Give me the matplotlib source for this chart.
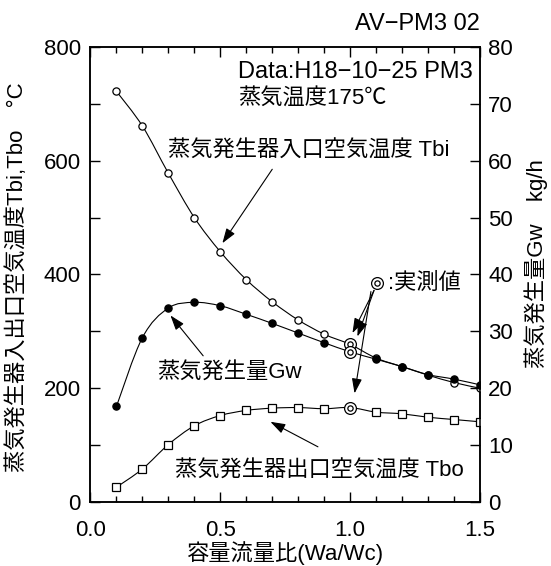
import matplotlib
matplotlib.use("Agg")
import matplotlib.pyplot as plt
import numpy as np
from matplotlib.path import Path
from matplotlib.patches import PathPatch
from matplotlib.ticker import MultipleLocator

plt.rcParams["font.family"] = ["Liberation Sans", "Noto Sans CJK JP"]

# capacity flow ratio Wa/Wc
ratio = [0.1, 0.2, 0.3, 0.4, 0.5, 0.6, 0.7, 0.8, 0.9, 1.0, 1.1, 1.2, 1.3, 1.4, 1.5]
# inlet air temperature Tbi [C]
t_bi = [722, 661, 578, 500, 440, 391, 352, 320, 295, 277, 253, 238, 223, 210, 200]
# outlet air temperature Tbo [C]
t_bo = [26, 58, 101, 134, 152, 161, 165, 166, 164, 166, 158, 155, 149, 145, 141]
# steam generation Gw [kg/h]
g_w = [16.8, 28.9, 34.1, 35.1, 34.5, 33.0, 31.4, 29.7, 28.0, 26.4, 25.1, 23.8, 22.4, 21.6, 20.6]
# measured point
meas_x = 1.0

FS = 16


def smooth_path(xs, ys):
    # Catmull-Rom through the points, written as cubic Bezier segments
    pts = np.column_stack([np.asarray(xs, dtype=float), np.asarray(ys, dtype=float)])
    verts = [pts[0]]
    codes = [Path.MOVETO]
    n = len(pts)
    for i in range(n - 1):
        p0 = pts[max(i - 1, 0)]
        p1 = pts[i]
        p2 = pts[i + 1]
        p3 = pts[min(i + 2, n - 1)]
        verts += [p1 + (p2 - p0) / 6.0, p2 - (p3 - p1) / 6.0, p2]
        codes += [Path.CURVE4] * 3
    return Path(verts, codes)


def double_circle(ax, x, y):
    ax.plot([x], [y], linestyle="none", marker="o", markersize=8.5, markerfacecolor="white",
            markeredgecolor="black", markeredgewidth=0.9, zorder=4)
    ax.plot([x], [y], linestyle="none", marker="o", markersize=3.8, markerfacecolor="white",
            markeredgecolor="black", markeredgewidth=0.9, zorder=5)


def draw_series(ax, xs, ys, marker, face):
    ax.add_patch(PathPatch(smooth_path(xs, ys), fill=False, lw=0.8, edgecolor="black", zorder=2))
    keep = [i for i, x in enumerate(xs) if x != meas_x]
    ax.plot([xs[i] for i in keep], [ys[i] for i in keep], linestyle="none", marker=marker,
            markersize=5.2, markerfacecolor=face, markeredgecolor="black", markeredgewidth=0.9, zorder=3)
    double_circle(ax, meas_x, ys[xs.index(meas_x)])


fig = plt.figure(figsize=(5.51, 5.66), dpi=100)
ax = fig.add_axes([0.1642, 0.1131, 0.7069, 0.8039])
ax2 = ax.twinx()

ax.set_xlim(0, 1.5)
ax.set_ylim(0, 800)
ax2.set_ylim(0, 80)

draw_series(ax, ratio, t_bi, "o", "white")
draw_series(ax, ratio, t_bo, "s", "white")
draw_series(ax2, ratio, g_w, "o", "black")

ax.xaxis.set_major_locator(MultipleLocator(0.5))
ax.xaxis.set_minor_locator(MultipleLocator(0.1))
ax.yaxis.set_major_locator(MultipleLocator(200))
ax.yaxis.set_minor_locator(MultipleLocator(100))
ax2.yaxis.set_major_locator(MultipleLocator(10))

ax.xaxis.set_major_formatter(matplotlib.ticker.FormatStrFormatter("%.1f"))
ax.tick_params(axis="x", which="both", direction="in", top=True, labelsize=FS, width=1, pad=13)
ax.tick_params(axis="x", which="major", length=7)
ax.tick_params(axis="x", which="minor", length=4.5)
ax.tick_params(axis="y", which="both", direction="in", length=7, width=1, labelsize=FS, pad=7)
ax2.tick_params(axis="y", which="major", direction="in", length=7, width=1, labelsize=FS, pad=6)
for a in (ax, ax2):
    for s in a.spines.values():
        s.set_linewidth(1.1)

ax.set_xlabel("容量流量比(Wa/Wc)", fontsize=FS)
ax.xaxis.set_label_coords(0.5, -0.085)
ax.set_ylabel("蒸気発生器入出口空気温度Tbi,Tbo　°C", fontsize=FS)
ax.yaxis.set_label_coords(-0.16, 0.495)
ax2.set_ylabel("蒸気発生量Gw　kg/h", fontsize=16)
ax2.yaxis.set_label_coords(1.113, 0.525)

fig.text(0.871, 0.958, "AV−PM3 02", ha="right", va="center", fontsize=17)

ax.text(0.567, 756, "Data:H18−10−25 PM3", ha="left", va="center", fontsize=17)
ax.text(0.567, 710, "蒸気温度175℃", ha="left", va="center", fontsize=FS)
ax.text(0.298, 617, "蒸気発生器入口空気温度 Tbi", ha="left", va="center", fontsize=FS)
ax.text(0.255, 229, "蒸気発生量Gw", ha="left", va="center", fontsize=FS)
ax.text(0.325, 55, "蒸気発生器出口空気温度 Tbo", ha="left", va="center", fontsize=FS)

arrow = dict(arrowstyle="-|>,head_length=0.5,head_width=0.17", color="black", lw=0.8,
             mutation_scale=18, shrinkA=0, shrinkB=0)
ax.annotate("", xy=(0.508, 455), xytext=(0.70, 585), arrowprops=arrow)
ax.annotate("", xy=(0.308, 328), xytext=(0.434, 257), arrowprops=arrow)
ax.annotate("", xy=(0.693, 141), xytext=(0.876, 97), arrowprops=arrow)

# measured-value legend
double_circle(ax, 1.105, 385)
ax.text(1.145, 385, ":実測値", ha="left", va="center", fontsize=FS)
ax.annotate("", xy=(1.009, 297), xytext=(1.092, 372), arrowprops=arrow)
ax.annotate("", xy=(1.028, 291), xytext=(1.092, 372), arrowprops=arrow)
ax.annotate("", xy=(1.017, 191), xytext=(1.080, 370), arrowprops=arrow)

fig.savefig("out.png", dpi=100)
